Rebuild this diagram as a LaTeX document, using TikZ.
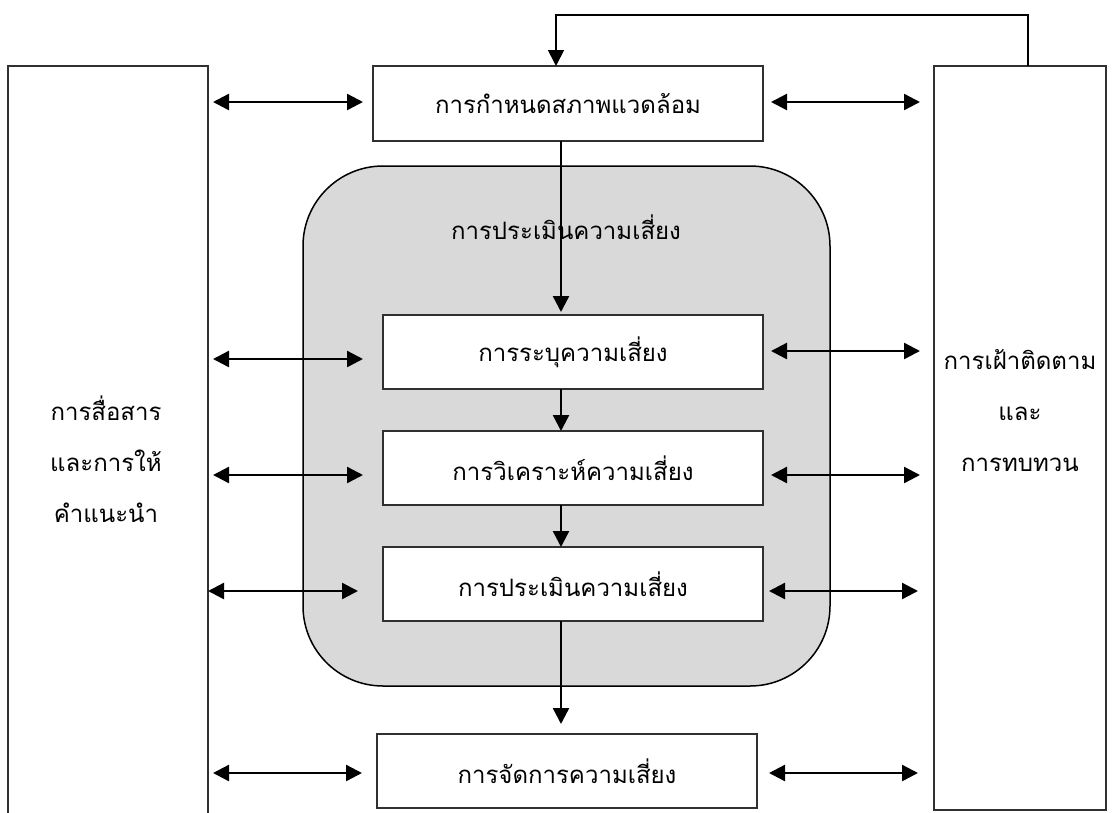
\documentclass[tikz,border=0pt]{standalone}
\usepackage{fontspec}
\newfontfamily\thaifont[Script=Thai]{Loma}
\usetikzlibrary{arrows.meta}
\definecolor{panelgray}{HTML}{D9D9D9}
\definecolor{edgegray}{HTML}{303030}
\begin{document}
\begin{tikzpicture}[x=1pt,y=-1pt,
  every node/.style={inner sep=0pt,outer sep=0pt},
  txt/.style={font=\thaifont\fontsize{24}{51}\selectfont,align=center},
  stepbox/.style={draw=edgegray,line width=1.1pt,fill=white,minimum width=380pt,minimum height=74pt,txt},
  sidebox/.style={draw=edgegray,line width=1.1pt,fill=white},
  flow/.style={line width=2.4pt,-{Triangle[length=16pt,width=16pt]}},
  both/.style={line width=2.4pt,{Triangle[length=16pt,width=16pt]}-{Triangle[length=16pt,width=16pt]}},
  loopline/.style={line width=1.8pt,-{Triangle[length=16pt,width=16pt]}}]
\useasboundingbox (0,0) rectangle (1112,812);

% side panels
\node[sidebox,minimum width=200pt,minimum height=750pt] (comm) at (108,441) {};
\node[txt] (commtext) at (106,459) {การสื่อสาร\\และการให้\\คำแนะนำ};
\node[sidebox,minimum width=172pt,minimum height=744pt] (mon) at (1020,438) {};
\node[txt] (montext) at (1020,411) {การเฝ้าติดตาม\\และ\\การทบทวน};

% risk assessment area
\node[draw=black,line width=1.5pt,fill=panelgray,rounded corners=80pt,
      minimum width=527pt,minimum height=520pt] (assess) at (566.5,426) {};
\node[txt] (assesstitle) at (566,227) {การประเมินความเสี่ยง};

% process steps
\node[stepbox,minimum width=390pt,minimum height=75pt] (ctx) at (568,103.5) {การกำหนดสภาพแวดล้อม};
\node[stepbox] (ident) at (573,352) {การระบุความเสี่ยง};
\node[stepbox] (anal) at (573,468) {การวิเคราะห์ความเสี่ยง};
\node[stepbox] (eval) at (573,584) {การประเมินความเสี่ยง};
\node[stepbox] (treat) at (567,771) {การจัดการความเสี่ยง};

% vertical flow
\coordinate (vx) at (561,0);
\draw[flow] (ctx.south -| vx) -- ([yshift=3pt]ident.north -| vx);
\draw[flow] (ident.south -| vx) -- (anal.north -| vx);
\draw[flow] (anal.south -| vx) -- (eval.north -| vx);
\draw[flow] (eval.south -| vx) -- ([yshift=10pt]treat.north -| vx);

% feedback from monitoring back to context
\coordinate (fbr) at (1028,15);
\coordinate (fbl) at (556,15);
\draw[loopline] (mon.north -| fbr) -- (fbr) -- (fbl) -- (ctx.north -| fbl);

% rows of two-way links
\coordinate (r0) at (0,102);
\coordinate (r1l) at (0,359);
\coordinate (r1r) at (0,351);
\coordinate (r2) at (0,475);
\coordinate (r3) at (0,591);
\coordinate (r4) at (0,773);

\draw[both] ([xshift=5pt]comm.east |- r0) -- ([xshift=-10pt]ctx.west |- r0);
\draw[both] ([xshift=5pt]comm.east |- r1l) -- ([xshift=-20pt]ident.west |- r1l);
\draw[both] ([xshift=5pt]comm.east |- r2) -- ([xshift=-20pt]anal.west |- r2);
\draw[both] (comm.east |- r3) -- ([xshift=-25pt]eval.west |- r3);
\draw[both] ([xshift=5pt]comm.east |- r4) -- ([xshift=-15pt]treat.west |- r4);

\draw[both] ([xshift=8pt]ctx.east |- r0) -- ([xshift=-14pt]mon.west |- r0);
\draw[both] ([xshift=8pt]ident.east |- r1r) -- ([xshift=-14pt]mon.west |- r1r);
\draw[both] ([xshift=8pt]anal.east |- r2) -- ([xshift=-14pt]mon.west |- r2);
\draw[both] ([xshift=6pt]eval.east |- r3) -- ([xshift=-16pt]mon.west |- r3);
\draw[both] ([xshift=12pt]treat.east |- r4) -- ([xshift=-16pt]mon.west |- r4);
\end{tikzpicture}
\end{document}
